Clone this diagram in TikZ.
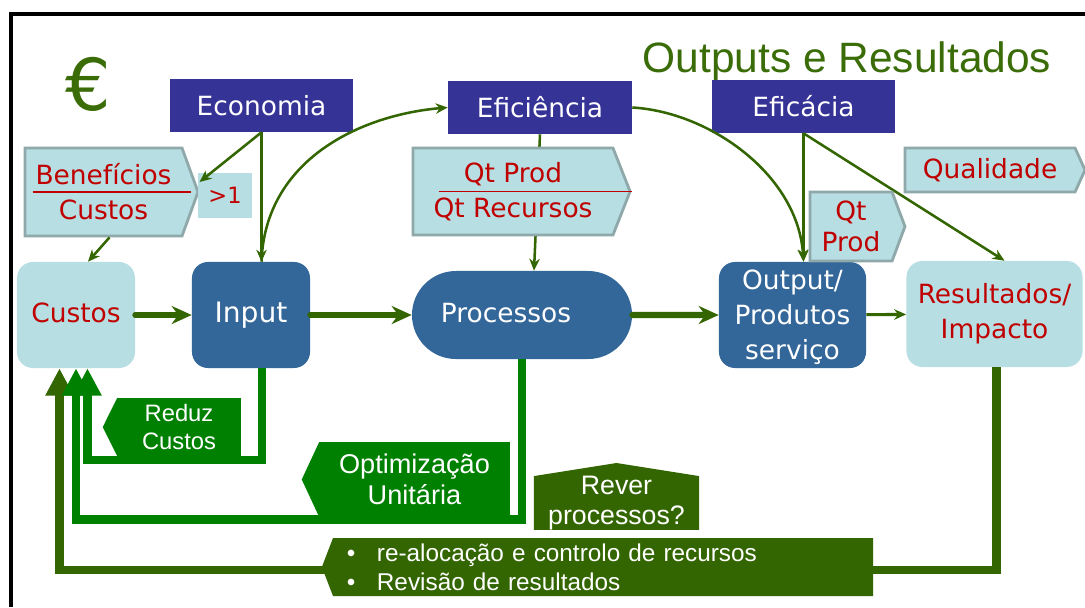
\documentclass[tikz,border=0pt]{standalone}
\usepackage{fontspec}
\setmainfont{DejaVu Sans}
\newfontfamily\arialfont{Liberation Sans}
\usepackage{xcolor}
\usetikzlibrary{arrows.meta,shapes.misc,shapes.symbols}

\definecolor{boxpurple}{RGB}{54,51,150}
\definecolor{boxblue}{RGB}{51,102,153}
\definecolor{paleblue}{RGB}{183,222,226}
\definecolor{tagedge}{RGB}{143,168,170}
\definecolor{txtred}{RGB}{192,0,0}
\definecolor{olive}{RGB}{51,102,0}
\definecolor{loopgreen}{RGB}{0,128,0}
\definecolor{titlegreen}{RGB}{58,108,8}

\begin{document}
\begin{tikzpicture} [ x=0.025cm, y=-0.025cm,
    font=\fontsize{18.8}{24.9}\selectfont,
    topbox/.style={fill=boxpurple, text=white, minimum width=4.575cm, minimum height=1.325cm, inner sep=0pt},
    mainbox/.style={rounded corners=0.4cm, minimum height=2.65cm, align=center, inner sep=0pt},
    oneline/.style={text height=1.02em, text depth=0em},
    ratiotag/.style={signal, signal to=east, fill=paleblue, draw=tagedge, line width=2pt, text=txtred, align=center, inner sep=0pt},
    backtag/.style={signal, text=white, align=center, inner sep=0pt},
    cue/.style={olive, line width=1.8pt, -{Stealth[length=0.3cm,width=0.26cm]}},
    flow/.style={olive, line width=4.3pt, line cap=round, -{Stealth[length=0.5cm,width=0.45cm]}},
    feedback/.style={line width=6pt, -{Triangle[length=0.68cm,width=0.66cm]}},
  ]
    \useasboundingbox (0,0) rectangle (1085,607);
    \draw[line width=2.85pt] (11,607) -- (11,14) -- (1085,14);

    \node[anchor=base, text=titlegreen, font=\arialfont\fontsize{30.2}{36}\selectfont] (title) at (847,72) {Outputs e Resultados};
    \node[anchor=base, text=titlegreen, font=\fontsize{51}{60}\selectfont] (euro) at (88,110) {€};

    \node[topbox] (econ) at (261.5,105.5) {Economia};
    \node[topbox, minimum width=4.6cm] (efic) at (540,107.5) {Eficiência};
    \node[topbox] (eficacia) at (803.5,106.5) {Eficácia};

    \node[mainbox, oneline, fill=paleblue, text=txtred, minimum width=2.95cm] (custos) at (76,315) {Custos};
    \node[mainbox, oneline, fill=boxblue, text=white, minimum width=2.95cm, font=\fontsize{20}{24}\selectfont] (input) at (251,315) {Input};
    \node[rounded rectangle, oneline, fill=boxblue, text=white, minimum width=5.5cm, minimum height=2.2cm, inner sep=0pt] (proc) at (522,315) {Processos\hspace*{0.8cm}};
    \node[mainbox, text depth=0.05em, fill=boxblue, text=white, minimum width=3.675cm] (output) at (792.5,315) {Output/\\Produtos\\serviço};
    \node[mainbox, fill=paleblue, text=txtred, minimum width=4.4cm] (result) at (994.5,314) {Resultados/\\Impacto};

    \draw[flow] (custos) -- (input);
    \draw[flow] (input) -- (proc);
    \draw[flow] (proc) -- (output);
    \draw[cue, line width=2.2pt] (output) -- (result);

    \draw[cue] (econ.south) -- (econ.south |- input.north);
    \draw[cue] (econ.south |- input.north) .. controls (265,160) and (360,115) .. (efic.west);
    \draw[cue] (efic.south) -- ([xshift=0.3cm]proc.north);
    \draw[cue] (efic.east) .. controls (710,112) and (798,175) .. (eficacia.south |- output.north);
    \draw[cue] (eficacia.south) -- (eficacia.south |- output.north);
    \draw[cue] (eficacia.south) -- ([xshift=0.25cm]result.north);

    % feedback loops
    \draw[feedback, olive] ([xshift=0.05cm]result.south) -- ++(0,202.5) -| ([xshift=-0.4125cm]custos.south);
    \draw[feedback, loopgreen] (proc.south) -- ++(0,160) -| (custos.south);
    \draw[feedback, loopgreen] ([xshift=0.275cm]input.south) -- ++(0,91.5) -| ([xshift=0.2875cm]custos.south);

    \node[ratiotag, signal pointer angle=140, minimum width=4.325cm, minimum height=2.2cm] (benef) at (103.5,192) {Benefícios\\Custos};
    \draw[txtred, line width=0.8pt] ([xshift=0.225cm]benef.west) -- ([xshift=-0.225cm]benef.east);
    \node[ratiotag, signal pointer angle=137, minimum width=5.425cm, minimum height=2.175cm] (qtratio) at (513,191.5) {Qt Prod\\Qt Recursos};
    \draw[txtred, line width=0.8pt] ([xshift=0.675cm]qtratio.west) -- (qtratio.east);
    \node[ratiotag, signal pointer angle=139, minimum width=2.375cm, minimum height=1.725cm, font=\fontsize{18.8}{22}\selectfont] (qtprod) at (851,226.5) {Qt\\Prod};
    \node[ratiotag, signal pointer angle=131, minimum width=4.5cm, minimum height=1.1cm] (qual) at (990,170) {Qualidade};
    \node[fill=paleblue, text=txtred, minimum width=1.35cm, minimum height=1.125cm, inner sep=0pt, font=\fontsize{16}{18}\selectfont] (gtone) at (225,195) {>1};
    \draw[cue] ([xshift=0.15cm]benef.south) -- ([xshift=0.3cm]custos.north);
    \draw[cue] (econ.south) -- ([yshift=0.25cm]benef.east);

    \node[backtag, signal to=west, fill=loopgreen, signal pointer angle=127, minimum width=3.45cm, minimum height=1.45cm, font=\arialfont\fontsize{16.9}{20.6}\selectfont] (reduz) at (179,427) {Reduz\\Custos};
    \node[backtag, signal to=west, fill=loopgreen, signal pointer angle=130, minimum width=5.2cm, minimum height=1.875cm, font=\arialfont\fontsize{19.3}{22}\selectfont] (optim) at (414.5,479.5) {Optimização\\Unitária};
    \node[backtag, signal to=north, fill=olive, signal pointer angle=162, minimum width=4.125cm, minimum height=1.575cm, font=\arialfont\fontsize{19}{21.3}\selectfont] (rever) at (616.5,503) {Rever\\processos?};
    \node[backtag, signal to=west, fill=olive, signal pointer angle=138, minimum width=13.775cm, minimum height=1.45cm, text width=12.8cm, align=left, font=\arialfont\fontsize{17.3}{20.6}\selectfont] (review) at (603,567) {\makebox[0.75cm][l]{\textbullet}re-alocação e controlo de recursos\\\makebox[0.75cm][l]{\textbullet}Revisão de resultados};
\end{tikzpicture}
\end{document}
